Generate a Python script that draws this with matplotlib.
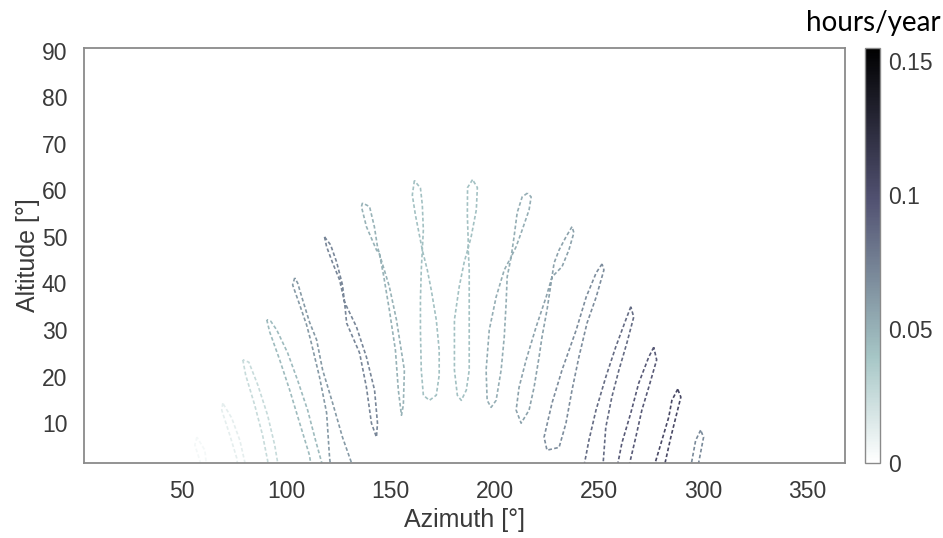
import numpy as np
import matplotlib.pyplot as plt
from matplotlib.colors import Normalize

# one analemma per clock hour
# azimuth [deg] and altitude [deg] of the traced outline, morning -> evening
loop_az = [
    [57.2, 56.2, 58.6, 59.3, 62.0, 61.0, 57.2],
    [69.6, 69.1, 73.0, 76.3, 77.0, 81.0, 77.8, 73.9, 69.6],
    [79.2, 80.6, 84.9, 88.7, 91.1, 91.5, 96.5, 94.5, 91.1, 86.4, 82.1, 79.2],
    [90.7, 92.1, 96.9, 101.7, 106.5, 111.2, 112.2, 118.0, 114.1, 110.3, 105.5, 100.7, 95.5, 92.6, 90.7],
    [104.1, 103.1, 106.5, 109.8, 111.7, 116.0, 119.4, 120.8, 121.5, 132.5, 127.0, 122.3, 117.5, 114.6,
     111.2, 107.9, 105.5, 104.1],
    [118.4, 119.4, 122.3, 125.6, 128.0, 133.7, 138.5, 142.4, 143.8, 143.3, 140.9, 138.5, 135.2, 129.0,
     128.0, 127.0, 124.2, 121.3, 118.4],
    [136.6, 136.1, 138.5, 143.3, 144.7, 149.5, 152.9, 156.7, 156.2, 155.3, 153.8, 152.4, 149.5, 146.7,
     144.7, 143.8, 142.3, 140.0, 136.6],
    [161.5, 160.5, 162.0, 163.9, 165.3, 167.7, 169.6, 172.0, 173.4, 173.4, 172.0, 168.7, 165.8, 164.8,
     164.4, 164.4, 164.8, 165.3, 165.8, 165.3, 164.4, 161.5],
    [189.4, 187.0, 186.9, 187.3, 187.3, 185.4, 183.0, 180.7, 180.7, 182.1, 184.0, 186.4, 187.8, 187.8,
     187.8, 187.8, 187.3, 188.8, 191.2, 191.7, 189.4],
    [215.7, 213.2, 210.8, 209.3, 207.9, 204.6, 200.7, 197.4, 195.9, 196.4, 198.3, 200.7, 203.1, 204.6,
     205.5, 206.0, 207.9, 210.3, 213.2, 216.5, 217.5, 215.7],
    [237.1, 234.2, 230.9, 228.5, 227.5, 225.1, 222.7, 221.3, 218.9, 216.5, 212.7, 210.3, 211.7, 215.1,
     219.9, 224.7, 227.5, 232.3, 235.6, 238.0, 237.1],
    [251.5, 248.7, 243.9, 239.1, 232.3, 227.5, 223.7, 225.1, 230.9, 234.2, 237.1, 240.4, 244.3, 248.7,
     252.4, 251.5],
    [265.3, 262.9, 258.1, 253.3, 248.6, 245.2, 242.5, 251.8, 253.3, 256.2, 259.6, 263.4, 266.7, 265.3],
    [276.3, 273.9, 269.1, 265.3, 261.0, 258.5, 264.0, 267.7, 270.6, 273.9, 277.7, 276.3],
    [287.8, 285.0, 283.5, 280.2, 276.0, 281.0, 284.5, 286.9, 289.3, 287.8],
    [298.8, 296.4, 293.8, 297.2, 300.2, 298.8],
]
loop_alt = [
    [7.0, 5.3, 2.0, 0.0, 0.0, 4.2, 7.0],
    [14.3, 12.8, 7.4, 2.5, 0.0, 0.0, 6.3, 11.1, 14.3],
    [23.6, 20.3, 13.9, 7.4, 2.0, 0.0, 0.0, 5.3, 11.7, 18.2, 23.1, 23.6],
    [32.2, 29.6, 23.6, 17.1, 10.0, 3.1, 0.0, 0.0, 6.3, 12.8, 19.2, 25.1, 30.0, 31.9, 32.2],
    [41.2, 39.7, 35.4, 31.1, 27.9, 19.9, 12.2, 2.7, 0.0, 0.0, 7.0, 14.3, 21.4, 27.9,
     31.7, 36.5, 40.1, 41.2],
    [50.0, 47.9, 44.4, 40.8, 36.0, 30.7, 24.2, 17.1, 10.0, 7.0, 10.0, 17.7, 25.1, 31.5,
     36.0, 39.7, 44.6, 48.3, 50.0],
    [57.3, 56.5, 52.2, 47.2, 46.4, 39.3, 32.2, 21.4, 13.9, 11.7, 17.1, 25.7, 34.3, 41.8,
     46.4, 47.9, 52.2, 56.5, 57.3],
    [62.1, 59.0, 54.7, 50.4, 47.2, 42.9, 38.6, 32.2, 25.7, 20.3, 16.0, 14.9, 16.0, 21.4,
     30.0, 36.5, 42.9, 47.2, 51.5, 56.9, 60.5, 62.1],
    [62.3, 60.6, 54.7, 49.4, 47.6, 44.6, 39.3, 32.2, 21.4, 16.0, 14.9, 17.1, 21.4, 28.5,
     35.8, 42.9, 47.6, 50.2, 55.8, 60.6, 62.3],
    [59.4, 58.6, 55.2, 50.0, 45.7, 42.9, 37.1, 30.0, 21.4, 14.9, 13.4, 14.9, 21.4, 28.5,
     35.8, 41.4, 45.7, 47.9, 51.5, 55.8, 58.6, 59.4],
    [52.2, 50.0, 47.2, 44.4, 41.4, 34.3, 28.5, 24.2, 17.7, 12.8, 10.0, 12.8, 17.7, 23.6,
     30.7, 37.1, 41.4, 43.6, 47.2, 50.9, 52.2],
    [44.2, 42.3, 37.1, 30.0, 21.4, 14.3, 7.0, 4.2, 4.8, 10.0, 17.1, 24.2, 31.5, 37.1,
     42.9, 44.2],
    [35.0, 32.2, 26.4, 19.9, 12.8, 6.3, 0.0, 0.0, 9.1, 15.6, 21.4, 27.2, 32.8, 35.0],
    [26.3, 24.2, 18.6, 12.2, 5.7, 0.0, 0.0, 7.0, 12.8, 17.7, 23.6, 26.3],
    [17.3, 14.9, 11.3, 6.3, 0.0, 0.0, 7.0, 11.3, 15.6, 17.3],
    [8.5, 6.3, 0.0, 0.0, 7.0, 8.5],
]
# typical hours/year of each loop
loop_hours = [0.005, 0.012, 0.025, 0.045, 0.062, 0.072, 0.05, 0.042,
              0.042, 0.052, 0.058, 0.068, 0.085, 0.095, 0.105, 0.07]

cbar_ticks = [0, 0.05, 0.1, 0.15]

cmap = plt.get_cmap('bone_r')
norm = Normalize(vmin=0, vmax=0.155)

plt.rcParams['font.family'] = ['Liberation Sans', 'DejaVu Sans']
tcol = '#3a3a3a'
fcol = '#8a8a8a'

fig = plt.figure(figsize=(9.43, 5.38), dpi=100)
ax = fig.add_axes([0.089, 0.139, 0.807, 0.772])

for az, alt, h in zip(loop_az, loop_alt, loop_hours):
    ax.plot(az, alt, color=cmap(norm(h)), lw=1.2, ls=(0, (2.2, 1.4)))

ax.set_xlim(3, 368)
ax.set_ylim(1.4, 90.6)
ax.set_xticks([50, 100, 150, 200, 250, 300, 350])
ax.set_yticks([10, 20, 30, 40, 50, 60, 70, 80, 90])
ax.tick_params(length=0, labelsize=16.5, colors=tcol, pad=12)
ax.set_xlabel('Azimuth [°]', fontsize=18, color=tcol, labelpad=4)
ax.set_ylabel('Altitude [°]', fontsize=18, color=tcol, labelpad=1)
for s in ax.spines.values():
    s.set_color(fcol)
    s.set_linewidth(1.3)

cax = fig.add_axes([0.917, 0.139, 0.016, 0.772])
sm = plt.cm.ScalarMappable(norm=norm, cmap=cmap)
cb = fig.colorbar(sm, cax=cax, ticks=cbar_ticks)
cb.ax.set_yticklabels(['0', '0.05', '0.1', '0.15'])
cb.ax.tick_params(length=0, labelsize=16.5, colors=tcol, pad=6)
cb.outline.set_edgecolor(fcol)
cb.outline.set_linewidth(1.0)

fig.text(0.997, 0.958, 'hours/year', ha='right', va='center', fontsize=20,
         family=['Lato', 'DejaVu Sans'], color='black')

fig.savefig('out.png', dpi=100)
